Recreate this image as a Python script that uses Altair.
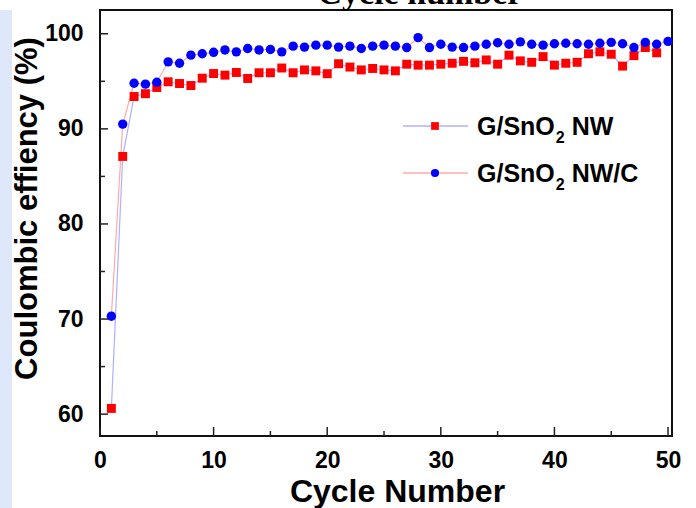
import altair as alt
import pandas as pd

# ---------------- data ----------------
series_names = ["G/SnO2 NW", "G/SnO2 NW/C"]

cycles_nw = list(range(1, 50))
nw = [60.6, 87.1, 93.4, 93.7, 94.35, 94.95, 94.77, 94.56, 95.33, 95.82,
      95.65, 95.93, 95.3, 95.9, 95.9, 96.4, 95.9, 96.2, 96.1, 95.8,
      96.85, 96.5, 96.2, 96.35, 96.2, 96.1, 96.8, 96.7, 96.7, 96.8,
      96.9, 97.1, 96.95, 97.25, 96.8, 97.75, 97.15, 97.0, 97.6, 96.7,
      96.9, 97.0, 97.9, 98.1, 97.85, 96.6, 97.7, 98.55, 98.0]

cycles_nwc = list(range(1, 51))
nwc = [70.3, 90.5, 94.8, 94.7, 94.9, 97.05, 96.9, 97.75, 97.9, 98.05,
       98.3, 98.1, 98.45, 98.3, 98.35, 98.1, 98.7, 98.6, 98.8, 98.8,
       98.6, 98.7, 98.45, 98.7, 98.8, 98.7, 98.55, 99.6, 98.55, 98.9,
       98.6, 98.55, 98.7, 98.9, 99.05, 98.9, 99.15, 98.9, 98.8, 98.95,
       99.0, 98.95, 98.9, 99.0, 99.1, 98.95, 98.55, 99.1, 98.9, 99.2]

y_ticks = [60, 70, 80, 90, 100]
y_minor = [65, 75, 85, 95]
x_ticks = [0, 10, 20, 30, 40, 50]
x_minor = [5, 15, 25, 35, 45]

x_title = "Cycle Number"
y_title = "Coulombic effiency (%)"
top_title = "Cycle number"

# ---------------- layout / style ----------------
W, H = 572, 426
PAD = {"left": 100, "top": 10, "right": 24, "bottom": 72}
FONT = "Liberation Sans"
RED = "#ff0000"
BLUE = "#0000ff"
LINE_OF_NW = "#b0b0ff"   # light blue line for red squares
LINE_OF_NWC = "#ffaaaa"  # light red line for blue circles

df_nw = pd.DataFrame({"cycle": cycles_nw, "value": nw})
df_nwc = pd.DataFrame({"cycle": cycles_nwc, "value": nwc})

xs = alt.Scale(domain=[0, 50.35], nice=False, zero=False)
ys = alt.Scale(domain=[57.7, 102.5], nice=False, zero=False)

x_axis = alt.Axis(values=x_ticks, title=x_title, grid=False, domain=False, ticks=False,
                  labelFont=FONT, labelFontSize=23, labelFontWeight="bold", labelColor="black",
                  labelPadding=13, labelFlush=False,
                  titleFont=FONT, titleFontSize=32, titleFontWeight="bold", titleColor="black",
                  titleX=297, titleY=65, titleBaseline="alphabetic", titleAlign="center")
y_axis = alt.Axis(values=y_ticks, title=y_title, grid=False, domain=False, ticks=False,
                  labelFont=FONT, labelFontSize=23, labelFontWeight="bold", labelColor="black",
                  labelPadding=17,
                  titleFont=FONT, titleFontSize=31, titleFontWeight="bold", titleColor="black",
                  titleX=-64, titleY=198, titleAngle=270, titleBaseline="alphabetic",
                  titleAlign="center")

X = alt.X("cycle:Q", scale=xs, axis=x_axis)
Y = alt.Y("value:Q", scale=ys, axis=y_axis)

one = pd.DataFrame({"a": [0]})

# left light-blue strip (page background decoration)
strip = alt.Chart(one).mark_rect(color="#dfe7fa").encode(
    x=alt.value(-PAD["left"]), x2=alt.value(-PAD["left"] + 12),
    y=alt.value(0), y2=alt.value(H + PAD["bottom"]))

# clipped title at top
ttl = alt.Chart(one).mark_text(
    font="Liberation Serif", fontSize=34, fontWeight="bold", color="black",
    align="center", baseline="alphabetic").encode(
    x=alt.value(320), y=alt.value(-6), text=alt.value(top_title))

line_nw = alt.Chart(df_nw).mark_line(color=LINE_OF_NW, strokeWidth=1.2).encode(x=X, y=Y)
line_nwc = alt.Chart(df_nwc).mark_line(color=LINE_OF_NWC, strokeWidth=1.2).encode(x=X, y=Y)
pts_nw = alt.Chart(df_nw).mark_point(shape="square", filled=True, color=RED, opacity=1,
                                      size=80).encode(x=X, y=Y)
pts_nwc = alt.Chart(df_nwc).mark_point(shape="circle", filled=True, color=BLUE, opacity=1,
                                        size=88).encode(x=X, y=Y)

# inward ticks
def yticks(vals, length):
    return alt.Chart(pd.DataFrame({"value": vals})).mark_rule(
        color="#222", strokeWidth=1.5).encode(y=Y, x=alt.value(0), x2=alt.value(length))

def xticks(vals, length):
    return alt.Chart(pd.DataFrame({"cycle": vals})).mark_rule(
        color="#222", strokeWidth=1.5).encode(x=X, y=alt.value(H), y2=alt.value(H - length))

ticks = [yticks(y_ticks, 8), yticks(y_minor, 5), xticks(x_ticks, 9), xticks(x_minor, 5)]

# legend (manual, to get subscript 2)
ADV = {"G": 0.778, "/": 0.278, "S": 0.667, "n": 0.611, "O": 0.778, "2": 0.556,
       " ": 0.278, "N": 0.722, "W": 0.944, "C": 0.722}

def tw(s, size):
    return sum(ADV[c] for c in s) * size

LEG_FS = 25
SUB_FS = 16

def legend_row(y, name_suffix, line_color, shape, color, size):
    parts = []
    parts.append(alt.Chart(one).mark_rule(color=line_color, strokeWidth=1.5).encode(
        x=alt.value(303), x2=alt.value(368), y=alt.value(y)))
    parts.append(alt.Chart(one).mark_point(shape=shape, filled=True, color=color, opacity=1,
                                           size=size).encode(x=alt.value(335), y=alt.value(y)))
    x0 = 377
    base = y + 9
    parts.append(alt.Chart(one).mark_text(font=FONT, fontSize=LEG_FS, fontWeight="bold",
                                          color="black", align="left",
                                          baseline="alphabetic").encode(
        x=alt.value(x0), y=alt.value(base), text=alt.value("G/SnO")))
    x1 = x0 + tw("G/SnO", LEG_FS) + 1
    parts.append(alt.Chart(one).mark_text(font=FONT, fontSize=SUB_FS, fontWeight="bold",
                                          color="black", align="left",
                                          baseline="alphabetic").encode(
        x=alt.value(x1), y=alt.value(base + 8), text=alt.value("2")))
    x2 = x1 + tw("2", SUB_FS)
    parts.append(alt.Chart(one).mark_text(font=FONT, fontSize=LEG_FS, fontWeight="bold",
                                          color="black", align="left",
                                          baseline="alphabetic").encode(
        x=alt.value(x2 + tw(" ", LEG_FS)), y=alt.value(base), text=alt.value(name_suffix)))
    return parts

legend = (legend_row(116, "NW", LINE_OF_NW, "square", RED, 60)
          + legend_row(163, "NW/C", LINE_OF_NWC, "circle", BLUE, 66))

chart = alt.layer(strip, ttl, line_nw, line_nwc, pts_nw, pts_nwc, *ticks, *legend).properties(
    width=W, height=H,
    autosize=alt.AutoSizeParams(type="none"),
    padding=PAD,
    background="white",
).configure_view(stroke="#111", strokeWidth=2)

chart.save("out.html", embed_options={"renderer": "svg", "actions": False})
